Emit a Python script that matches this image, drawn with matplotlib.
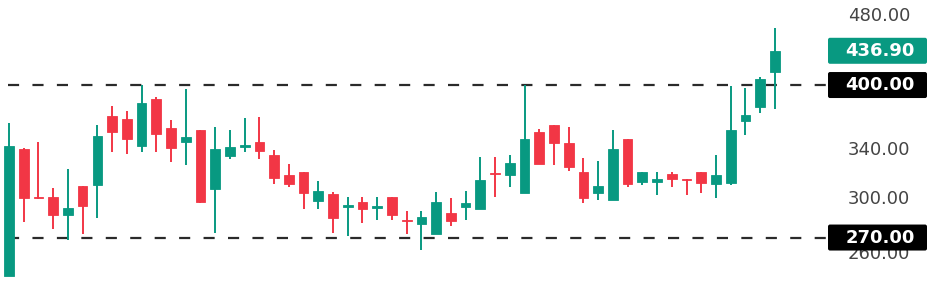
import matplotlib
matplotlib.use("Agg")
import matplotlib.pyplot as plt
from matplotlib.patches import FancyBboxPatch
from matplotlib.ticker import NullLocator, NullFormatter, FixedLocator, FixedFormatter

# OHLC data (log price axis)
opens = [244.5, 339.2, 299.6, 299.7, 286.1, 308.3, 308.9, 369.6, 366.7, 341.8,
         386.1, 357.8, 345.6, 356.2, 306.2, 333.1, 341.2, 345.6, 334.0, 317.0,
         319.4, 296.8, 302.0, 292.3, 296.1, 291.3, 299.7, 282.5, 279.4, 272.4,
         287.8, 292.1, 290.8, 319.1, 317.4, 303.0, 354.6, 360.5, 344.7, 319.7,
         303.0, 297.6, 347.7, 311.3, 311.5, 318.3, 314.2, 319.4, 309.9, 311.0,
         364.6, 377.6, 413.3]
highs = [362.4, 340.0, 345.1, 307.0, 322.1, 308.3, 360.5, 378.9, 373.8, 400.0,
         387.5, 365.2, 395.6, 356.2, 359.2, 356.2, 367.7, 368.0, 338.3, 326.1,
         319.4, 312.1, 303.8, 300.0, 300.0, 300.0, 299.7, 288.9, 289.1, 303.4,
         298.7, 304.6, 332.5, 332.5, 334.0, 400.0, 357.4, 360.5, 359.2, 331.1,
         328.8, 356.2, 347.7, 319.4, 319.7, 319.7, 314.2, 319.7, 334.2, 399.0,
         397.2, 408.7, 462.9]
lows = [244.5, 281.2, 298.2, 276.0, 268.3, 272.4, 283.9, 336.3, 334.8, 336.3,
        336.3, 328.0, 325.5, 295.3, 273.4, 330.8, 336.3, 330.6, 309.9, 307.8,
        290.6, 290.8, 273.4, 271.2, 280.1, 282.5, 282.5, 272.4, 261.5, 272.4,
        278.1, 282.5, 290.8, 300.0, 307.8, 303.0, 326.6, 325.2, 320.5, 295.3,
        297.6, 297.6, 307.8, 308.9, 301.5, 307.8, 301.5, 302.6, 299.0, 308.9,
        351.3, 371.9, 376.3]
closes = [341.8, 299.2, 298.7, 286.1, 291.6, 292.8, 350.7, 354.4, 348.3, 381.6,
          352.5, 340.0, 349.5, 296.1, 339.4, 340.9, 343.0, 337.4, 315.0, 309.9,
          302.6, 304.6, 283.7, 293.4, 290.8, 292.6, 286.1, 281.5, 284.7, 295.9,
          281.7, 294.9, 313.4, 318.0, 327.2, 347.7, 326.6, 344.2, 324.0, 299.2,
          308.1, 339.4, 309.7, 319.4, 314.2, 314.0, 313.4, 311.0, 317.0, 356.5,
          370.5, 406.5, 436.9]

tick_values = [260, 300, 340, 480]
tick_labels = ["260.00", "300.00", "340.00", "480.00"]
level_values = [400.0, 270.0]
last_price = 436.9

UP = "#089981"
DOWN = "#F23645"

W, H = 941, 286
fig = plt.figure(figsize=(W / 100, H / 100), dpi=100)
fig.patch.set_facecolor("white")
ax = fig.add_axes([0, 0, 830 / W, 1])
ax.set_facecolor("white")
ax.set_yscale("log")

xs = list(range(len(opens)))
colors = [UP if c >= o else DOWN for o, c in zip(opens, closes)]
bottoms = [min(o, c) for o, c in zip(opens, closes)]
heights = [max(abs(c - o), 0.6) for o, c in zip(opens, closes)]

ax.vlines(xs, lows, highs, colors=colors, linewidth=1.4, zorder=2)
ax.bar(xs, heights, bottom=bottoms, width=0.66, color=colors,
       edgecolor=colors, linewidth=0.6, zorder=3)

for lv in level_values:
    ax.axhline(lv, color="#2a2a2a", linewidth=1.6,
               linestyle=(7.4, (5, 6)), zorder=1)

ax.set_xlim(-0.61, 55.74)
ax.set_ylim(238.3, 498.0)

for s in ax.spines.values():
    s.set_visible(False)
ax.xaxis.set_visible(False)
ax.yaxis.tick_right()
ax.yaxis.set_major_locator(FixedLocator(tick_values))
ax.yaxis.set_major_formatter(FixedFormatter(tick_labels))
ax.yaxis.set_minor_locator(NullLocator())
ax.yaxis.set_minor_formatter(NullFormatter())
ax.tick_params(axis="y", length=0, pad=13, labelsize=13, labelcolor="#444444")

# price label boxes on the right scale
def price_box(value, face):
    _, ypix = ax.transData.transform((0, value))
    box = FancyBboxPatch((828, ypix - 13), 99, 26,
                         boxstyle="round,pad=0,rounding_size=2",
                         transform=None, facecolor=face, edgecolor="none",
                         zorder=5)
    fig.add_artist(box)
    fig.text(880 / W, ypix / H, f"{value:.2f}", color="white",
             fontsize=13, fontweight="bold", ha="center", va="center",
             zorder=6)

price_box(last_price, UP)
for lv in level_values:
    price_box(lv, "#000000")

fig.savefig("out.png", dpi=100, facecolor="white")
